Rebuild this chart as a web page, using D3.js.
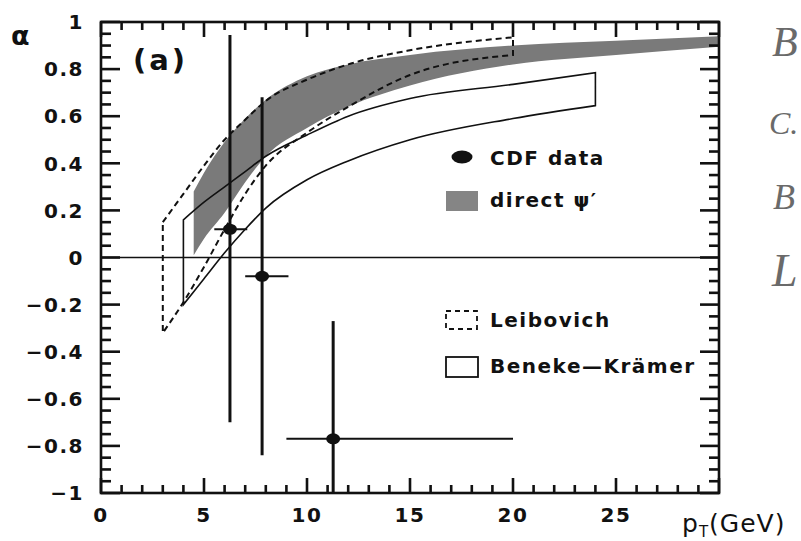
<!DOCTYPE html>
<html>
<head>
<meta charset="utf-8">
<script src="https://cdn.jsdelivr.net/npm/d3@7"></script>
<style>
  body { margin: 0; background: #fff; }
  svg { display: block; }
  .lab { font-family: "DejaVu Sans", sans-serif; font-weight: bold; fill: #111; }
</style>
</head>
<body>
<script>
// CDF data points: pT, alpha, errors
var cdfPt = [6.26, 7.82, 11.27];
var cdfAlpha = [0.12, -0.08, -0.77];
var cdfPtLo = [5.5, 7.0, 9.0];
var cdfPtHi = [7.1, 9.1, 20.0];
var cdfAlphaLo = [-0.70, -0.84, -1.0];
var cdfAlphaHi = [0.945, 0.68, -0.27];

// direct psi' band (grey)
var bandPt = [4.5, 5, 6, 7, 8, 10, 12, 15, 20, 25, 30];
var bandUp = [0.28, 0.36, 0.49, 0.59, 0.67, 0.77, 0.82, 0.86, 0.90, 0.92, 0.94];
var bandLo = [0.01, 0.08, 0.19, 0.32, 0.43, 0.55, 0.64, 0.73, 0.82, 0.86, 0.895];

// Leibovich (dashed)
var leibPt = [3, 4, 5, 6, 7, 8, 10, 12, 15, 20];
var leibUp = [0.15, 0.27, 0.39, 0.50, 0.585, 0.665, 0.755, 0.82, 0.88, 0.935];
var leibLo = [-0.32, -0.19, -0.04, 0.12, 0.27, 0.39, 0.53, 0.64, 0.775, 0.86];

// Beneke-Kramer (solid)
var bkPt = [4, 5, 6, 7, 8, 10, 12, 15, 20, 24];
var bkUp = [0.16, 0.235, 0.30, 0.365, 0.43, 0.52, 0.60, 0.675, 0.735, 0.785];
var bkLo = [-0.2, -0.09, 0.02, 0.12, 0.21, 0.33, 0.41, 0.50, 0.59, 0.645];

var xMajor = [0, 5, 10, 15, 20, 25, 30];
var yMajor = [-1, -0.8, -0.6, -0.4, -0.2, 0, 0.2, 0.4, 0.6, 0.8, 1];

var width = 801, height = 541;
var svg = d3.select("body").append("svg")
    .attr("width", width)
    .attr("height", height);

var x = d3.scaleLinear().domain([0, 30]).range([101, 719]);
var y = d3.scaleLinear().domain([-1, 1]).range([493, 22]);

function region(pts, up, lo) {
    var rows = pts.map(function(p, i) { return {p: p, u: up[i], l: lo[i]}; });
    return d3.area()
        .x(function(d) { return x(d.p); })
        .y0(function(d) { return y(d.l); })
        .y1(function(d) { return y(d.u); })
        .curve(d3.curveMonotoneX)(rows);
}

var defs = svg.append("defs");
defs.append("filter").attr("id", "soft")
    .append("feGaussianBlur").attr("stdDeviation", 0.5);

// grey band
svg.append("path")
    .attr("d", region(bandPt, bandUp, bandLo))
    .attr("fill", "#7a7a7a")
    .attr("filter", "url(#soft)");

// Leibovich outline
svg.append("path")
    .attr("d", region(leibPt, leibUp, leibLo))
    .attr("fill", "none")
    .attr("stroke", "#111")
    .attr("stroke-width", 2)
    .attr("stroke-dasharray", "6,4");

// Beneke-Kramer outline
svg.append("path")
    .attr("d", region(bkPt, bkUp, bkLo))
    .attr("fill", "none")
    .attr("stroke", "#111")
    .attr("stroke-width", 1.6);

// zero line
svg.append("line")
    .attr("x1", x(0)).attr("x2", x(30))
    .attr("y1", y(0)).attr("y2", y(0))
    .attr("stroke", "#111").attr("stroke-width", 1.4);

// frame
svg.append("rect")
    .attr("x", x(0)).attr("y", y(1))
    .attr("width", x(30) - x(0)).attr("height", y(-1) - y(1))
    .attr("fill", "none").attr("stroke", "#111").attr("stroke-width", 2.6);

// inward ticks on all four sides, drawn as thin filled bars
var xMinor = d3.range(0, 31, 1);
var yMinor = d3.range(-20, 21).map(function(i) { return i * 0.05; });
var tw = 2.6;
var xt = xMinor.map(function(v) { return {v: v, len: xMajor.indexOf(v) >= 0 ? 15 : 8}; });
var yt = yMinor.map(function(v, i) { return {v: v, len: i % 4 === 0 ? 19 : 10}; });
var tg = svg.append("g").attr("fill", "#111");
tg.selectAll("rect.xb").data(xt).enter().append("rect").attr("class", "xb")
    .attr("x", function(d) { return x(d.v) - tw / 2; })
    .attr("y", function(d) { return y(-1) - d.len; })
    .attr("width", tw).attr("height", function(d) { return d.len; });
tg.selectAll("rect.xt").data(xt).enter().append("rect").attr("class", "xt")
    .attr("x", function(d) { return x(d.v) - tw / 2; })
    .attr("y", y(1))
    .attr("width", tw).attr("height", function(d) { return d.len; });
tg.selectAll("rect.yl").data(yt).enter().append("rect").attr("class", "yl")
    .attr("x", x(0))
    .attr("y", function(d) { return y(d.v) - tw / 2; })
    .attr("width", function(d) { return d.len; }).attr("height", tw);
tg.selectAll("rect.yr").data(yt).enter().append("rect").attr("class", "yr")
    .attr("x", function(d) { return x(30) - d.len; })
    .attr("y", function(d) { return y(d.v) - tw / 2; })
    .attr("width", function(d) { return d.len; }).attr("height", tw);

// tick labels
svg.append("g").selectAll("text")
    .data(xMajor.filter(function(d) { return d < 30; }))
    .enter().append("text")
    .attr("class", "lab")
    .attr("x", function(d) { return x(d); })
    .attr("y", 522)
    .attr("text-anchor", "middle")
    .style("font-size", "20px")
    .style("letter-spacing", "1.5px")
    .text(function(d) { return d; });

svg.append("g").selectAll("text")
    .data(yMajor)
    .enter().append("text")
    .attr("class", "lab")
    .attr("x", 84)
    .attr("y", function(d) { return y(d); })
    .attr("dy", "0.36em")
    .attr("text-anchor", "end")
    .style("font-size", "20px")
    .style("letter-spacing", "1.5px")
    .text(function(d) {
        if (d === 0) return "0";
        if (d === 1) return "1";
        if (d === -1) return "\u22121";
        return (d < 0 ? "\u2212" : "") + Math.abs(d).toFixed(1);
    });

// CDF data with error bars
var cdf = cdfPt.map(function(p, i) {
    return {p: p, a: cdfAlpha[i], pl: cdfPtLo[i], ph: cdfPtHi[i], al: cdfAlphaLo[i], ah: cdfAlphaHi[i]};
});
var pts = svg.append("g").selectAll("g").data(cdf).enter().append("g");
pts.append("line")
    .attr("x1", function(d) { return x(d.p); }).attr("x2", function(d) { return x(d.p); })
    .attr("y1", function(d) { return y(d.al); }).attr("y2", function(d) { return y(d.ah); })
    .attr("stroke", "#111").attr("stroke-width", 3);
pts.append("line")
    .attr("x1", function(d) { return x(d.pl); }).attr("x2", function(d) { return x(d.ph); })
    .attr("y1", function(d) { return y(d.a); }).attr("y2", function(d) { return y(d.a); })
    .attr("stroke", "#111").attr("stroke-width", 2);
pts.append("ellipse")
    .attr("cx", function(d) { return x(d.p); })
    .attr("cy", function(d) { return y(d.a); })
    .attr("rx", 7).attr("ry", 5.5)
    .attr("fill", "#111");

// legend
var lg = svg.append("g");
lg.append("ellipse").attr("cx", 462).attr("cy", 157).attr("rx", 10.5).attr("ry", 6.5).attr("fill", "#111");
lg.append("rect").attr("x", 446).attr("y", 191).attr("width", 32).attr("height", 20).attr("fill", "#858585");
lg.append("rect").attr("x", 446).attr("y", 311).attr("width", 31).attr("height", 18)
    .attr("fill", "none").attr("stroke", "#111").attr("stroke-width", 1.8).attr("stroke-dasharray", "5,4");
lg.append("rect").attr("x", 446).attr("y", 357).attr("width", 32).attr("height", 20)
    .attr("fill", "none").attr("stroke", "#111").attr("stroke-width", 1.8);

var legText = [["CDF data", 165], ["direct \u03c8\u2032", 207], ["Leibovich", 327], ["Beneke\u2014Kr\u00e4mer", 373]];
lg.selectAll("text.lt").data(legText).enter().append("text")
    .attr("class", "lab lt")
    .attr("x", 490)
    .attr("y", function(d) { return d[1]; })
    .style("font-size", "20px")
    .style("letter-spacing", "1.5px")
    .text(function(d) { return d[0]; });

// panel label and axis titles
svg.append("text").attr("class", "lab")
    .attr("x", 133).attr("y", 70)
    .style("font-size", "29px").style("letter-spacing", "3px")
    .text("(a)");
svg.append("text").attr("class", "lab")
    .attr("x", 11).attr("y", 45)
    .style("font-size", "27px")
    .text("\u03b1");
var xl = svg.append("text").attr("class", "lab")
    .attr("x", 682).attr("y", 532)
    .style("font-size", "25px").style("font-weight", "normal").style("letter-spacing", "1px");
xl.append("tspan").text("p");
xl.append("tspan").attr("dy", 5).style("font-size", "15px").text("T");
xl.append("tspan").attr("dy", -5).text("(GeV)");

// handwritten notes at the right edge
var notes = [["B", 772, 56, 42], ["C.", 769, 134, 32], ["B", 773, 209, 36], ["L", 772, 286, 46]];
svg.append("g").selectAll("text").data(notes).enter().append("text")
    .attr("x", function(d) { return d[1]; })
    .attr("y", function(d) { return d[2]; })
    .style("font-family", "Liberation Serif, serif")
    .style("font-style", "italic")
    .style("font-size", function(d) { return d[3] + "px"; })
    .style("fill", "#6a6a6a")
    .text(function(d) { return d[0]; });
</script>
</body>
</html>
